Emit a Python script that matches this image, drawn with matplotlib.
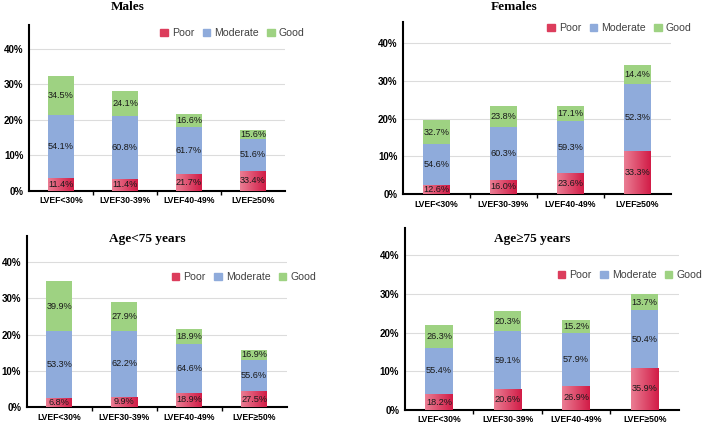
import matplotlib
matplotlib.use('Agg')
import matplotlib.pyplot as plt
import numpy as np
from matplotlib.patches import Patch
from matplotlib.colors import LinearSegmentedColormap

# categories and data (bar height = share of group, segments = within-bar split)
categories = ['LVEF<30%', 'LVEF30-39%', 'LVEF40-49%', 'LVEF≥50%']
series = ['Poor', 'Moderate', 'Good']
colors = {'Poor': '#dc3d5c', 'Moderate': '#8fabdb', 'Good': '#9ed282'}

males_total = [32.4, 29.1, 21.6, 17.0]
males_poor = [11.4, 11.4, 21.7, 33.4]
males_mod = [54.1, 60.8, 61.7, 51.6]
males_good = [34.5, 24.1, 16.6, 15.6]

females_total = [19.6, 23.3, 23.3, 34.1]
females_poor = [12.6, 16.0, 23.6, 33.3]
females_mod = [54.6, 60.3, 59.3, 52.3]
females_good = [32.7, 23.8, 17.1, 14.4]

young_total = [34.8, 29.0, 20.9, 15.7]
young_poor = [6.8, 9.9, 18.9, 27.5]
young_mod = [53.3, 62.2, 64.6, 55.6]
young_good = [39.9, 27.9, 18.9, 16.9]

old_total = [21.9, 25.5, 23.3, 29.9]
old_poor = [18.2, 20.6, 26.9, 35.9]
old_mod = [55.4, 59.1, 57.9, 50.4]
old_good = [26.3, 20.3, 15.2, 13.7]

# pinkish-to-crimson fill used on the Poor segments
poor_cmap = LinearSegmentedColormap.from_list('poor', ['#ea7d93', '#d21c47'])

W, H = 709, 425
fig = plt.figure(figsize=(W / 100, H / 100), dpi=100)


def px_axes(left, right, bottom, top):
    return fig.add_axes([left / W, 1 - bottom / H, (right - left) / W, (bottom - top) / H])


def draw_panel(ax, total, poor, mod, good, ymax):
    x = range(len(categories))
    base = [0] * len(total)
    grad = np.linspace(0, 1, 64).reshape(1, -1)
    for name, shares in zip(series, [poor, mod, good]):
        heights = [t * s / 100 for t, s in zip(total, shares)]
        bars = ax.bar(x, heights, 0.4, bottom=base, color=colors[name], zorder=3)
        if name == 'Poor':
            for r in bars:
                im = ax.imshow(grad, cmap=poor_cmap, aspect='auto', zorder=3.2,
                               extent=[r.get_x(), r.get_x() + r.get_width(),
                                       r.get_y(), r.get_y() + r.get_height()])
                im.set_clip_path(r)
        for i, (h, b, s) in enumerate(zip(heights, base, shares)):
            ax.text(i, b + h / 2, f'{s:.1f}%', ha='center', va='center',
                    fontsize=6.6, color='#1a1a1a', zorder=4)
        base = [b + h for b, h in zip(base, heights)]
    ax.set_xlim(-0.5, 3.5)
    ax.set_ylim(0, ymax)
    ax.set_yticks([0, 10, 20, 30, 40])
    ax.set_yticklabels(['0%', '10%', '20%', '30%', '40%'], fontsize=7, fontweight='bold')
    ax.set_xticks(list(x))
    ax.set_xticklabels(categories, fontsize=6.2, fontweight='bold')
    ax.set_xticks([0.5, 1.5, 2.5], minor=True)
    ax.tick_params(axis='both', which='major', length=0, pad=4)
    ax.tick_params(axis='x', which='minor', length=3, width=1, direction='out')
    ax.yaxis.grid(True, color='#dcdcdc', lw=0.8, zorder=0)
    for s in ['top', 'right']:
        ax.spines[s].set_visible(False)
    for s in ['left', 'bottom']:
        ax.spines[s].set_linewidth(1.5)
    ax.set_facecolor('none')


plt.rcParams['font.family'] = ['Liberation Sans', 'DejaVu Sans']

ax1 = px_axes(29, 285, 190.7, 25)
draw_panel(ax1, males_total, males_poor, males_mod, males_good, 46.7)
ax2 = px_axes(403, 670.7, 194, 21.7)
draw_panel(ax2, females_total, females_poor, females_mod, females_good, 45.7)
ax3 = px_axes(26.7, 286.7, 407, 236)
draw_panel(ax3, young_total, young_poor, young_mod, young_good, 47.2)
ax4 = px_axes(404.7, 679, 409.7, 228)
draw_panel(ax4, old_total, old_poor, old_mod, old_good, 47.1)

titles = [('Males', 127.7, 7), ('Females', 514, 7),
          ('Age<75 years', 147.7, 239), ('Age≥75 years', 531.7, 239)]
for t, tx, ty in titles:
    fig.text(tx / W, 1 - ty / H, t, ha='center', va='center', fontsize=9.5,
             fontweight='bold', family=['Liberation Serif', 'DejaVu Serif'])

handles = [Patch(color=colors[s], label=s) for s in series]
for lx, ly in [(232.5, 33), (619.5, 28), (244, 277), (630, 275.3)]:
    fig.legend(handles=handles, loc='center', bbox_to_anchor=(lx / W, 1 - ly / H),
               ncol=3, frameon=False, fontsize=7.6, handlelength=0.7, handleheight=0.7,
               handletextpad=0.4, columnspacing=0.8, labelcolor='#404040',
               borderpad=0.1)

fig.savefig('out.png', dpi=100)
